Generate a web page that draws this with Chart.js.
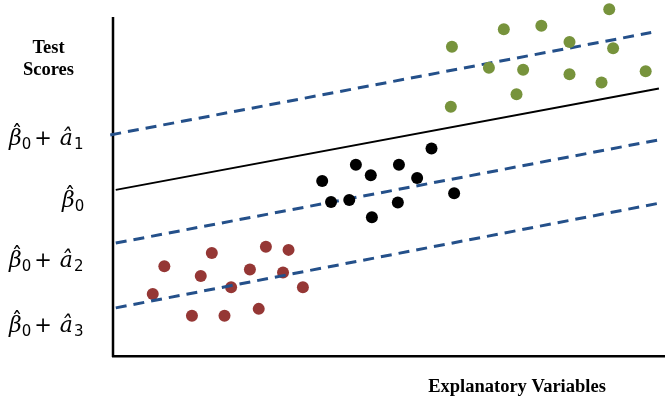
<!DOCTYPE html>
<html>
<head>
<meta charset="utf-8">
<script src="https://cdn.jsdelivr.net/npm/chart.js@4.4.1/dist/chart.umd.min.js"></script>
<style>
  html, body { margin: 0; padding: 0; background: #ffffff; }
  #wrap { width: 665px; height: 401px; }
</style>
</head>
<body>
<div id="wrap"><canvas id="c" width="665" height="401"></canvas></div>
<script>
// Group 1 (highest scores)
const group1X = [61.4, 70.8, 77.6, 89.9, 82.7, 90.6, 68.1, 74.3, 82.7, 88.5, 96.5, 73.1, 61.2];
const group1Y = [91.2, 96.4, 97.4, 102.3, 92.6, 90.8, 85.0, 84.4, 83.1, 80.7, 84.0, 77.2, 73.5];

// Reference group (middle)
const group0X = [37.9, 44.0, 46.7, 51.8, 57.7, 55.1, 61.8, 39.5, 42.8, 51.6, 46.9];
const group0Y = [51.6, 56.4, 53.3, 56.4, 61.2, 52.5, 48.0, 45.4, 46.0, 45.3, 40.9];

// Group 3 (lowest scores)
const group3X = [9.3, 7.2, 17.9, 15.9, 21.4, 24.8, 27.7, 31.8, 30.8, 34.4, 14.3, 20.2, 26.4];
const group3Y = [26.5, 18.3, 30.4, 23.6, 20.3, 25.5, 32.2, 31.3, 24.6, 20.3, 11.9, 11.9, 13.9];

// Fitted lines: common slope, different intercepts
const baseLineX = [0.5, 98.9];
const baseLineY = [49.0, 78.9];
const shift1X = [-0.5, 97.5];
const shift1Y = [65.2, 95.4];
const shift2X = [0.5, 98.7];
const shift2Y = [33.3, 63.7];
const shift3X = [0.5, 98.7];
const shift3Y = [14.2, 45.0];

// Vertical axis runs from 0 up to this value
const yAxisTop = 100;

const pts = (xs, ys) => xs.map((x, i) => ({ x, y: ys[i] }));

const BLUE = '#24508A';
const GREEN = '#77933C';
const RED = '#953735';

const dashed = (xs, ys) => ({
  data: pts(xs, ys),
  showLine: true,
  borderColor: BLUE,
  borderWidth: 3,
  borderDash: [11, 7],
  pointRadius: 0,
  fill: false,
  clip: false
});

const dots = (xs, ys, color) => ({
  data: pts(xs, ys),
  showLine: false,
  backgroundColor: color,
  borderWidth: 0,
  pointRadius: 6,
  pointHoverRadius: 6,
  clip: false
});

// Vertical axis line, drawn from the y scale
const yAxisLine = {
  id: 'yAxisLine',
  beforeDatasetsDraw(chart) {
    const ctx = chart.ctx;
    const y = chart.scales.y;
    const x0 = chart.chartArea.left;
    ctx.save();
    ctx.strokeStyle = '#000';
    ctx.lineWidth = 2.5;
    ctx.beginPath();
    ctx.moveTo(x0, y.getPixelForValue(yAxisTop));
    ctx.lineTo(x0, y.getPixelForValue(0) + 1);
    ctx.stroke();
    ctx.restore();
  }
};

// Text around the plot: axis captions and intercept labels
const labelsPlugin = {
  id: 'labels',
  afterDraw(chart) {
    const ctx = chart.ctx;
    ctx.save();
    ctx.fillStyle = '#000';
    ctx.textBaseline = 'alphabetic';

    ctx.font = 'bold 18.5px "Liberation Serif"';
    ctx.textAlign = 'center';
    ctx.fillText('Test', 48.5, 53);
    ctx.fillText('Scores', 48.5, 75);
    ctx.fillText('Explanatory Variables', 517, 392);

    ctx.textAlign = 'left';
    const mainItalic = 'italic 22px "DejaVu Serif"';
    const mainUpright = '21px "DejaVu Sans"';
    const subFont = '15px "DejaVu Sans"';
    const hatFont = '21px "DejaVu Sans"';

    function piece(text, font, x, y) {
      ctx.font = font;
      ctx.fillText(text, x, y);
      return x + ctx.measureText(text).width;
    }

    function beta(x, y) {
      ctx.font = mainItalic;
      const w = ctx.measureText('\u03B2').width;
      ctx.fillText('\u03B2', x, y);
      ctx.font = hatFont;
      ctx.textAlign = 'center';
      ctx.fillText('\u02C6', x + w * 0.62, y - 5);
      ctx.textAlign = 'left';
      return x + w;
    }

    function label(x, y, sub) {
      let cx = beta(x, y);
      cx = piece('0', subFont, cx, y + 4);
      if (sub) {
        cx = piece('+', mainUpright, cx + 3, y);
        cx = piece('\u00E2', mainItalic, cx + 8, y);
        piece(sub, subFont, cx + 1, y + 4);
      }
    }

    label(9, 145, '1');
    label(62, 207, null);
    label(9, 267, '2');
    label(9, 332, '3');
    ctx.restore();
  }
};

new Chart(document.getElementById('c'), {
  type: 'scatter',
  data: {
    datasets: [
      dots(group0X, group0Y, '#000000'),
      dots(group1X, group1Y, GREEN),
      {
        data: pts(baseLineX, baseLineY),
        showLine: true,
        borderColor: '#000000',
        borderWidth: 2,
        pointRadius: 0,
        fill: false,
        clip: false
      },
      dashed(shift1X, shift1Y),
      dashed(shift2X, shift2Y),
      dashed(shift3X, shift3Y),
      dots(group3X, group3Y, RED)
    ]
  },
  options: {
    responsive: false,
    devicePixelRatio: 1,
    animation: false,
    events: [],
    layout: {
      autoPadding: false,
      padding: { left: 113, right: 0, top: 0, bottom: 45 }
    },
    plugins: {
      legend: { display: false },
      tooltip: { enabled: false }
    },
    scales: {
      x: {
        type: 'linear',
        min: 0,
        max: 100,
        grid: { display: false, drawTicks: false },
        ticks: { display: false },
        border: { display: true, color: '#000', width: 2.5 }
      },
      y: {
        type: 'linear',
        min: 0,
        max: 105,
        grid: { display: false, drawTicks: false },
        ticks: { display: false },
        border: { display: false }
      }
    }
  },
  plugins: [yAxisLine, labelsPlugin]
});
</script>
</body>
</html>
